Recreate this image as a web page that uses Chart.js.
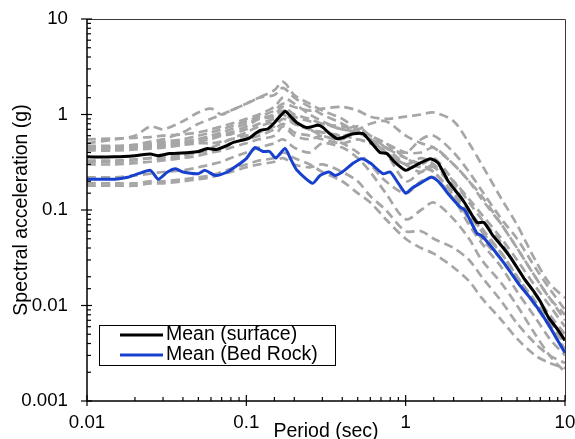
<!DOCTYPE html>
<html>
<head>
<meta charset="utf-8">
<script src="https://cdn.jsdelivr.net/npm/chart.js@4.4.1/dist/chart.umd.min.js"></script>
<style>
  body { margin: 0; background: #fff; }
  #wrap { width: 575px; height: 439px; }
</style>
</head>
<body>
<div id="wrap"><canvas id="spectra" width="575" height="439"></canvas></div>
<script>
// periods (sec) shared by the individual records
const periods = [0.01, 0.015, 0.02, 0.025, 0.03, 0.04, 0.05, 0.06, 0.07, 0.08, 0.1, 0.12, 0.15, 0.17, 0.2, 0.25,
  0.3, 0.4, 0.5, 0.6, 0.75, 1.0, 1.25, 1.5, 2.0, 2.5, 3.0, 4.0, 5.0, 6.5, 8.0, 10];

// individual records (g), dashed grey
const rec01 = [0.45, 0.46, 0.48, 0.52, 0.55, 0.65, 0.8, 0.9, 1.0, 1.1, 1.3, 1.5, 1.8, 2.2, 1.6, 1.3, 1.1, 0.9, 0.7, 0.6, 0.45, 0.35, 0.3, 0.25, 0.15, 0.09, 0.06, 0.035, 0.02, 0.011, 0.007, 0.0045];
const rec02 = [0.5, 0.55, 0.6, 0.75, 0.7, 0.85, 1.05, 1.15, 1.0, 1.1, 1.3, 1.5, 1.6, 1.9, 1.5, 1.2, 1.0, 0.8, 0.65, 0.55, 0.4, 0.3, 0.28, 0.25, 0.14, 0.08, 0.05, 0.03, 0.018, 0.01, 0.006, 0.0035];
const rec03 = [0.47, 0.47, 0.48, 0.5, 0.52, 0.55, 0.6, 0.65, 0.7, 0.75, 0.85, 0.95, 1.1, 1.3, 1.2, 1.1, 1.15, 1.2, 1.1, 0.95, 0.9, 0.95, 1.0, 1.05, 0.85, 0.5, 0.3, 0.13, 0.07, 0.03, 0.017, 0.012];
const rec04 = [0.46, 0.46, 0.47, 0.48, 0.5, 0.52, 0.55, 0.58, 0.62, 0.65, 0.75, 0.9, 1.0, 1.2, 1.0, 0.9, 0.8, 0.75, 0.7, 0.8, 0.85, 0.6, 0.5, 0.45, 0.3, 0.2, 0.14, 0.07, 0.04, 0.02, 0.012, 0.008];
const rec05 = [0.44, 0.44, 0.45, 0.46, 0.47, 0.5, 0.52, 0.55, 0.6, 0.62, 0.7, 0.8, 0.9, 1.0, 0.8, 0.7, 0.65, 0.6, 0.55, 0.5, 0.45, 0.4, 0.55, 0.6, 0.4, 0.25, 0.16, 0.08, 0.05, 0.025, 0.015, 0.009];
const rec06 = [0.55, 0.56, 0.57, 0.58, 0.6, 0.62, 0.65, 0.7, 0.75, 0.8, 0.9, 1.0, 1.2, 1.5, 1.3, 1.0, 0.85, 0.7, 0.75, 0.6, 0.5, 0.35, 0.3, 0.35, 0.2, 0.12, 0.08, 0.045, 0.025, 0.013, 0.008, 0.005];
const rec07 = [0.32, 0.32, 0.33, 0.35, 0.34, 0.37, 0.4, 0.42, 0.45, 0.5, 0.55, 0.6, 0.7, 0.8, 0.65, 0.6, 0.55, 0.5, 0.55, 0.5, 0.4, 0.3, 0.35, 0.3, 0.18, 0.1, 0.065, 0.035, 0.02, 0.011, 0.006, 0.0035];
const rec08 = [0.30, 0.30, 0.31, 0.32, 0.33, 0.35, 0.37, 0.4, 0.42, 0.45, 0.5, 0.55, 0.6, 0.75, 0.6, 0.55, 0.6, 0.5, 0.4, 0.3, 0.2, 0.15, 0.2, 0.22, 0.13, 0.07, 0.045, 0.025, 0.014, 0.0075, 0.0045, 0.003];
const rec09 = [0.22, 0.22, 0.23, 0.24, 0.25, 0.26, 0.28, 0.3, 0.32, 0.35, 0.4, 0.45, 0.5, 0.55, 0.45, 0.4, 0.5, 0.45, 0.35, 0.25, 0.15, 0.08, 0.1, 0.12, 0.08, 0.05, 0.03, 0.017, 0.01, 0.005, 0.003, 0.002];
const rec10 = [0.19, 0.19, 0.19, 0.2, 0.2, 0.21, 0.22, 0.23, 0.25, 0.27, 0.3, 0.33, 0.35, 0.4, 0.35, 0.3, 0.25, 0.2, 0.15, 0.12, 0.08, 0.05, 0.04, 0.035, 0.025, 0.018, 0.012, 0.007, 0.0045, 0.003, 0.0025, 0.0022];
const rec11 = [0.18, 0.18, 0.18, 0.19, 0.19, 0.2, 0.21, 0.22, 0.24, 0.25, 0.28, 0.3, 0.32, 0.35, 0.3, 0.28, 0.3, 0.25, 0.2, 0.14, 0.1, 0.06, 0.06, 0.05, 0.04, 0.03, 0.02, 0.011, 0.0065, 0.004, 0.003, 0.0025];
const rec12 = [0.45, 0.45, 0.46, 0.47, 0.48, 0.5, 0.55, 0.6, 0.65, 0.7, 0.8, 0.9, 0.95, 1.1, 0.95, 0.85, 0.8, 0.7, 0.65, 0.55, 0.45, 0.3, 0.25, 0.3, 0.2, 0.13, 0.09, 0.05, 0.03, 0.016, 0.01, 0.006];
const rec13 = [0.42, 0.42, 0.43, 0.44, 0.45, 0.48, 0.5, 0.5, 0.52, 0.55, 0.6, 0.65, 0.75, 0.9, 0.8, 0.7, 0.65, 0.6, 0.65, 0.55, 0.4, 0.2, 0.25, 0.28, 0.17, 0.1, 0.06, 0.035, 0.02, 0.01, 0.0065, 0.004];
const rec14 = [0.33, 0.33, 0.34, 0.35, 0.36, 0.38, 0.4, 0.45, 0.5, 0.55, 0.65, 0.75, 0.85, 1.0, 0.85, 0.7, 0.6, 0.55, 0.7, 0.6, 0.5, 0.4, 0.4, 0.45, 0.3, 0.2, 0.13, 0.07, 0.04, 0.02, 0.012, 0.007];
const records = [rec01, rec02, rec03, rec04, rec05, rec06, rec07, rec08, rec09, rec10, rec11, rec12, rec13, rec14];

// mean at surface
const surfT = [0.01, 0.015, 0.02, 0.025, 0.028, 0.033, 0.044, 0.05, 0.057, 0.065, 0.075, 0.083, 0.095, 0.105, 0.115,
  0.122, 0.137, 0.15, 0.175, 0.19, 0.208, 0.24, 0.28, 0.3, 0.33, 0.37, 0.4, 0.43, 0.47, 0.54, 0.6, 0.69, 0.76,
  0.85, 1.0, 1.1, 1.23, 1.43, 1.6, 1.85, 2.3, 2.8, 3.1, 3.5, 4.1, 4.6, 5.5, 6.3, 7.0, 7.8, 9.0, 10];
const surfSa = [0.36, 0.36, 0.37, 0.385, 0.37, 0.39, 0.40, 0.41, 0.44, 0.43, 0.47, 0.51, 0.54, 0.57, 0.64,
  0.68, 0.71, 0.82, 1.08, 0.95, 0.82, 0.73, 0.77, 0.74, 0.64, 0.56, 0.57, 0.60, 0.63, 0.63, 0.52, 0.40, 0.39,
  0.32, 0.26, 0.28, 0.31, 0.345, 0.31, 0.20, 0.125, 0.074, 0.074, 0.055, 0.04, 0.031, 0.0195, 0.0144, 0.011, 0.0077, 0.0056, 0.0043];

// mean at bed rock
const rockT = [0.01, 0.015, 0.018, 0.021, 0.025, 0.028, 0.032, 0.036, 0.04, 0.05, 0.055, 0.064, 0.076, 0.087,
  0.1, 0.113, 0.127, 0.14, 0.153, 0.175, 0.19, 0.208, 0.26, 0.29, 0.33, 0.36, 0.4, 0.47, 0.53, 0.6, 0.72, 0.8,
  0.9, 1.0, 1.1, 1.23, 1.45, 1.6, 1.9, 2.2, 2.35, 2.8, 3.0, 3.5, 4.2, 5.1, 6.3, 7.8, 9.0, 10];
const rockSa = [0.21, 0.21, 0.22, 0.24, 0.26, 0.21, 0.25, 0.27, 0.25, 0.24, 0.26, 0.23, 0.25, 0.29,
  0.345, 0.45, 0.41, 0.41, 0.35, 0.44, 0.34, 0.26, 0.19, 0.23, 0.25, 0.23, 0.25, 0.31, 0.345, 0.31, 0.24, 0.25,
  0.19, 0.15, 0.17, 0.19, 0.22, 0.2, 0.14, 0.107, 0.1, 0.057, 0.054, 0.04, 0.027, 0.017, 0.011, 0.0065, 0.0043, 0.0032];

const xTickLabels = [0.01, 0.1, 1, 10];
const yTickLabels = [0.001, 0.01, 0.1, 1, 10];

const FONT = "'Liberation Sans', Arial, sans-serif";

function pairs(t, v) {
  return t.map((p, i) => ({ x: p, y: v[i] }));
}
function isLabelled(v, list) {
  return list.some((l) => Math.abs(Math.log10(v) - Math.log10(l)) < 1e-6);
}

var datasets = [
  { label: "Mean (surface)", data: pairs(surfT, surfSa), borderColor: "#000000", borderWidth: 3, pointRadius: 0, tension: 0.2 },
  { label: "Mean (Bed Rock)", data: pairs(rockT, rockSa), borderColor: "#1740cf", borderWidth: 3, pointRadius: 0, tension: 0.2 },
];
records.forEach((r, i) => {
  datasets.push({
    label: "rec" + (i + 1),
    data: pairs(periods, r),
    borderColor: "#a6a6a6",
    borderWidth: 2.7,
    borderDash: [9, 5],
    pointRadius: 0,
    tension: 0.3,
  });
});

// axis lines, frame, inward tick marks and legend box
const frameAndLegend = {
  id: "frameAndLegend",
  afterDatasetsDraw(chart) {
    const { ctx, chartArea: a, scales } = chart;
    ctx.save();
    ctx.strokeStyle = "#3a3a3a";
    ctx.lineWidth = 1;
    ctx.beginPath();
    ctx.moveTo(a.left, a.top + 0.5);
    ctx.lineTo(a.right + 0.5, a.top + 0.5);
    ctx.lineTo(a.right + 0.5, a.bottom);
    ctx.stroke();

    ctx.strokeStyle = "#000";
    ctx.lineWidth = 1.5;
    ctx.beginPath();
    ctx.moveTo(a.left, a.top);
    ctx.lineTo(a.left, a.bottom);
    ctx.lineTo(a.right, a.bottom);
    ctx.stroke();

    ctx.lineWidth = 1.2;
    scales.x.ticks.forEach((t) => {
      const px = scales.x.getPixelForValue(t.value);
      const major = isLabelled(t.value, xTickLabels);
      ctx.beginPath();
      ctx.moveTo(px, a.bottom - (major ? 6 : 4));
      ctx.lineTo(px, a.bottom + (major ? 5 : 0));
      ctx.stroke();
    });
    scales.y.ticks.forEach((t) => {
      const py = scales.y.getPixelForValue(t.value);
      const major = isLabelled(t.value, yTickLabels);
      ctx.beginPath();
      ctx.moveTo(a.left - (major ? 6 : 0), py);
      ctx.lineTo(a.left + (major ? 5 : 4), py);
      ctx.stroke();
    });

    // legend (means only)
    const bx = 99.5, by = 325.5, bw = 236, bh = 40;
    ctx.fillStyle = "#fff";
    ctx.fillRect(bx, by, bw, bh);
    ctx.strokeStyle = "#000";
    ctx.lineWidth = 1;
    ctx.strokeRect(bx, by, bw, bh);
    ctx.font = "19.5px " + FONT;
    ctx.textBaseline = "middle";
    [0, 1].forEach((i) => {
      const ds = chart.data.datasets[i];
      const ly = 335 + i * 20;
      ctx.strokeStyle = ds.borderColor;
      ctx.lineWidth = 3;
      ctx.beginPath();
      ctx.moveTo(120, ly);
      ctx.lineTo(163, ly);
      ctx.stroke();
      ctx.fillStyle = "#000";
      ctx.fillText(ds.label, 166, ly);
    });
    ctx.restore();
  },
};

var ctx = document.getElementById("spectra").getContext("2d");
var chart = new Chart(ctx, {
  type: "line",
  data: { datasets: datasets },
  plugins: [frameAndLegend],
  options: {
    responsive: false,
    animation: false,
    layout: { padding: { left: 0, right: 10, top: 19, bottom: 0 } },
    scales: {
      x: {
        type: "logarithmic",
        min: 0.01,
        max: 10,
        grid: { display: false, drawTicks: false },
        border: { display: false },
        ticks: {
          autoSkip: false,
          maxRotation: 0,
          padding: 11,
          color: "#000",
          font: { family: FONT, size: 18.7 },
          callback: (v) => (isLabelled(v, xTickLabels) ? String(v) : ""),
        },
        title: {
          display: true,
          text: "Period (sec)",
          color: "#000",
          font: { family: FONT, size: 19.5 },
          padding: { top: 0, bottom: -4 },
        },
        afterFit: (s) => {
          s.height = 38;
          s.paddingLeft = 0;
          s.paddingRight = 0;
        },
      },
      y: {
        type: "logarithmic",
        min: 0.001,
        max: 10,
        grid: { display: false, drawTicks: false },
        border: { display: false },
        ticks: {
          autoSkip: false,
          padding: 19,
          color: "#000",
          font: { family: FONT, size: 18.7 },
          callback: (v) => (isLabelled(v, yTickLabels) ? String(v) : ""),
        },
        title: {
          display: true,
          text: "Spectral acceleration (g)",
          color: "#000",
          font: { family: FONT, size: 19.5 },
          padding: { top: 10, bottom: 0 },
        },
        afterFit: (s) => {
          s.width = 87;
          s.paddingTop = 0;
          s.paddingBottom = 0;
        },
      },
    },
    plugins: {
      legend: { display: false },
      tooltip: { enabled: false },
    },
  },
});
</script>
</body>
</html>
